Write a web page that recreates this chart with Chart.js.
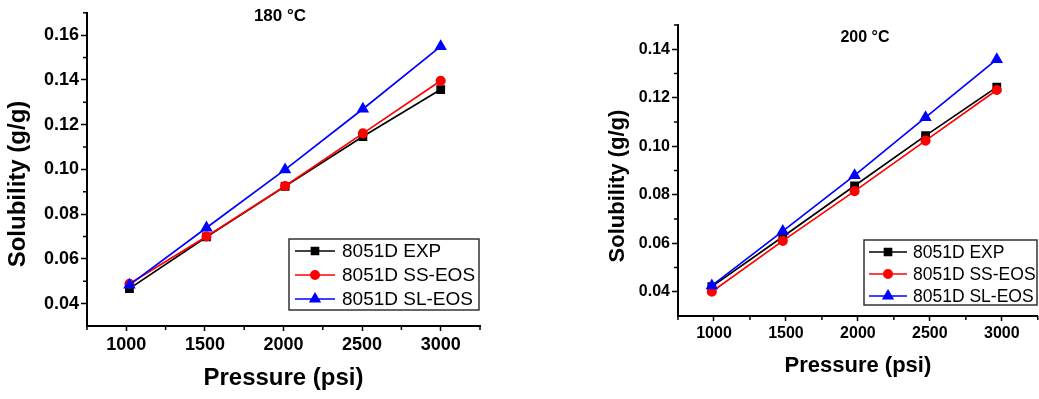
<!DOCTYPE html>
<html><head><meta charset="utf-8">
<script src="https://cdn.jsdelivr.net/npm/chart.js@4/dist/chart.umd.min.js"></script>
<style>
html,body{margin:0;padding:0;background:#fff;overflow:hidden;width:1039px;height:399px;position:relative;}
#c1{position:absolute;left:0;top:0;}
#c2{position:absolute;left:520px;top:0;}
</style></head><body>
<canvas id="c1" width="520" height="399"></canvas>
<canvas id="c2" width="525" height="399"></canvas>
<script>
// ---- data ----
const seriesNames = ['8051D EXP', '8051D SS-EOS', '8051D SL-EOS'];
const pressure180 = [1020, 1510, 2010, 2505, 3000];
const exp180 = [0.0467, 0.0698, 0.0924, 0.1147, 0.1357];
const ss180  = [0.0489, 0.0700, 0.0926, 0.1161, 0.1396];
const sl180  = [0.0484, 0.0739, 0.0999, 0.1270, 0.1550];
const pressure200 = [985, 1478, 1977, 2470, 2965];
const exp200 = [0.0421, 0.0627, 0.0837, 0.1044, 0.1244];
const ss200  = [0.0400, 0.0610, 0.0815, 0.1023, 0.1232];
const sl200  = [0.0425, 0.0650, 0.0880, 0.1119, 0.1358];
const xTickLabels = [1000, 1500, 2000, 2500, 3000];
const xMinorTicks = [750, 1250, 1750, 2250, 2750, 3250];
const yTickLabels180 = [0.04, 0.06, 0.08, 0.10, 0.12, 0.14, 0.16];
const yMinorTicks180 = [0.05, 0.07, 0.09, 0.11, 0.13, 0.15, 0.17];
const yTickLabels200 = [0.04, 0.06, 0.08, 0.10, 0.12, 0.14];
const yMinorTicks200 = [0.05, 0.07, 0.09, 0.11, 0.13, 0.15];
const titles = ['180 °C', '200 °C'];
const xAxisTitle = 'Pressure (psi)';
const yAxisTitle = 'Solubility (g/g)';

// ---- styles ----
const FONT = '"Liberation Sans", Arial, sans-serif';
const seriesStyles = [
  {color: '#000000', pointStyle: 'rect', radius: 5},
  {color: '#ff0000', pointStyle: 'circle', radius: 4.2},
  {color: '#0000ff', pointStyle: 'triangle', radius: 5.5}
];

const decorPlugin = {
  id: 'decor',
  afterDraw(chart, args, o) {
    const {ctx, chartArea: ca, scales: {x, y}} = chart;
    ctx.save();
    // minor ticks
    ctx.strokeStyle = '#000'; ctx.lineWidth = 1.5;
    o.xMinor.forEach(v => {
      const px = x.getPixelForValue(v);
      ctx.beginPath(); ctx.moveTo(px, ca.bottom); ctx.lineTo(px, ca.bottom + 4); ctx.stroke();
    });
    o.yMinor.forEach(v => {
      const py = y.getPixelForValue(v);
      ctx.beginPath(); ctx.moveTo(ca.left, py); ctx.lineTo(ca.left - 4, py); ctx.stroke();
    });
    // in-plot title
    ctx.fillStyle = '#000';
    ctx.textAlign = 'center'; ctx.textBaseline = 'middle';
    ctx.font = 'bold ' + o.titleSize + 'px ' + FONT;
    ctx.fillText(o.title, o.titleX, o.titleY);
    // y axis title
    ctx.save();
    ctx.translate(o.yTitleX, o.yTitleY); ctx.rotate(-Math.PI / 2);
    ctx.font = 'bold ' + o.yTitleSize + 'px ' + FONT;
    ctx.fillText(yAxisTitle, 0, 0);
    ctx.restore();
    // legend
    const L = o.legend;
    ctx.strokeStyle = '#333'; ctx.lineWidth = 1.5;
    ctx.strokeRect(L.x, L.y, L.w, L.h);
    ctx.font = L.fontSize + 'px ' + FONT;
    ctx.textAlign = 'left';
    chart.data.datasets.forEach((ds, i) => {
      const ry = L.rows[i];
      ctx.strokeStyle = ds.borderColor; ctx.lineWidth = 1.6;
      ctx.beginPath(); ctx.moveTo(L.x1, ry); ctx.lineTo(L.x2, ry); ctx.stroke();
      ctx.fillStyle = ds.pointBackgroundColor; ctx.strokeStyle = ds.borderColor;
      Chart.helpers.drawPoint(ctx, {pointStyle: ds.pointStyle, radius: ds.pointRadius, rotation: 0, borderWidth: 1}, (L.x1 + L.x2) / 2, ry);
      ctx.fillStyle = '#000';
      ctx.fillText(ds.label, L.tx, ry + 1);
    });
    ctx.restore();
  }
};

function makeChart(id, xs, series, yMin, yMax, yTicks, yMinor, L) {
  const datasets = series.map((vals, i) => ({
    label: seriesNames[i],
    data: vals.map((v, j) => ({x: xs[j], y: v})),
    borderColor: seriesStyles[i].color,
    backgroundColor: seriesStyles[i].color,
    pointBackgroundColor: seriesStyles[i].color,
    pointBorderColor: seriesStyles[i].color,
    pointStyle: seriesStyles[i].pointStyle,
    pointRadius: seriesStyles[i].radius,
    borderWidth: 1.7,
    tension: 0,
    order: 3 - i
  }));
  return new Chart(document.getElementById(id), {
    type: 'line',
    data: {datasets},
    options: {
      responsive: false, animation: false, devicePixelRatio: 1,
      layout: {padding: L.padding},
      plugins: {legend: {display: false}, tooltip: {enabled: false}, decor: L.decor},
      scales: {
        x: {
          type: 'linear', min: 750, max: 3250,
          afterBuildTicks: s => { s.ticks = xTickLabels.map(v => ({value: v})); },
          afterFit: s => { s.height = L.xHeight; },
          grid: {drawOnChartArea: false, tickLength: 5, tickColor: '#000', tickWidth: 1.5},
          border: {color: '#000', width: 2},
          ticks: {color: '#000', font: {family: FONT, size: L.tickSize, weight: 'bold'}, padding: 3, maxRotation: 0,
                  callback: v => String(v)},
          title: {display: true, text: xAxisTitle, color: '#000',
                  font: {family: FONT, size: L.xTitleSize, weight: 'bold'}, padding: {top: 0, bottom: L.xTitlePad}}
        },
        y: {
          type: 'linear', min: yMin, max: yMax,
          afterBuildTicks: s => { s.ticks = yTicks.map(v => ({value: v})); },
          afterFit: s => { s.width = L.yWidth; },
          grid: {drawOnChartArea: false, tickLength: 6, tickColor: '#000', tickWidth: 1.5},
          border: {color: '#000', width: 2},
          ticks: {color: '#000', font: {family: FONT, size: L.tickSize, weight: 'bold'}, padding: 2,
                  callback: v => Number(v).toFixed(2)}
        }
      }
    },
    plugins: [decorPlugin]
  });
}

makeChart('c1', pressure180, [exp180, ss180, sl180], 0.03, 0.17, yTickLabels180, yMinorTicks180, {
  padding: {left: 0, top: 12, right: 40, bottom: 0},
  yWidth: 87, xHeight: 73, xTitlePad: 6, tickSize: 18, xTitleSize: 24,
  decor: {
    xMinor: xMinorTicks, yMinor: yMinorTicks180,
    title: titles[0], titleX: 280, titleY: 16, titleSize: 17,
    yTitleX: 18, yTitleY: 184, yTitleSize: 24,
    legend: {x: 289, y: 239, w: 190, h: 71, rows: [251, 275, 299], x1: 295, x2: 335, tx: 342, fontSize: 19}
  }
});

makeChart('c2', pressure200, [exp200, ss200, sl200], 0.03, 0.15, yTickLabels200, yMinorTicks200, {
  padding: {left: 0, top: 25, right: 5, bottom: 0},
  yWidth: 158, xHeight: 83, xTitlePad: 20, tickSize: 16, xTitleSize: 22,
  decor: {
    xMinor: xMinorTicks, yMinor: yMinorTicks200,
    title: titles[1], titleX: 345, titleY: 38, titleSize: 16,
    yTitleX: 98, yTitleY: 186, yTitleSize: 22,
    legend: {x: 344, y: 240, w: 173, h: 65, rows: [252, 274, 296], x1: 349, x2: 387, tx: 393, fontSize: 17.5}
  }
});
</script>
</body></html>
